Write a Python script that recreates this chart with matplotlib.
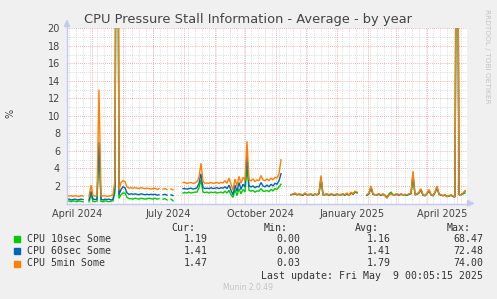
import matplotlib
matplotlib.use("Agg")
import matplotlib.pyplot as plt
import matplotlib.patches as mpatches
import matplotlib.lines as mlines
import numpy as np
import pandas as pd

nan = np.nan

# ---------------- data (2-day samples, 2024-04-06 .. 2025-05-09) ----------------
start_date = "2024-04-06"
n_points = 200

cpu_10sec = [
    0.25, 0.3, 0.2, 0.3, 0.25, 0.2, 0.3, 0.25, 0.2, nan, nan, 0.2, 1.0, 0.25, 0.2, 0.3,
    6.5, 0.25, 0.2, 0.3, 0.25, 0.2, 0.25, 0.3, 1.3, 68.47, 0.6, 1.0, 1.2, 1.2, 0.7, 0.55,
    0.55, 0.5, 0.6, 0.55, 0.5, 0.6, 0.55, 0.5, 0.55, 0.6, 0.55, 0.5,
    0.6, 0.5, 0.55, nan, 0.5, 0.55, 0.4, nan, 0.5, 0.3, nan, 0.5, nan, nan,
    1.2, 1.25, 1.2, 1.3, 1.2, 1.25, 1.3, 1.3, 1.8, 2.7, 1.3,
    1.25, 1.3, 1.2, 1.3, 1.25, 1.3, 1.2, 1.25, 1.3, 1.2, 1.4, 1.2, 1.5,
    1.0, 0.7, 1.6, 0.9, 1.7, 1.1, 1.6, 1.3, 4.2, 1.5,
    1.4, 1.5, 1.3, 1.45, 1.4, 1.7, 1.4, 1.4, 1.5, 1.35, 1.6, 1.45, 1.7,
    1.6, 1.9, 2.2, nan, nan, nan, nan,
    1.0, 1.05, 1.1, 1.0, 1.05, 1.0, 0.95, 1.1, 1.0, 1.0, 1.05, 0.95, 1.05, 1.0, 1.1, 2.8,
    1.0, 1.0, 1.05, 0.95, 1.05, 1.0, 0.95, 1.05, 1.0, 1.0, 1.05, 0.95, 1.1, 0.9, 1.2, 1.05,
    1.3, 1.2, nan, nan, nan, nan,
    0.95, 1.1, 1.8, 1.05, 1.0, 1.0, 1.05, 0.95, 1.05, 0.95, 0.7, 1.1, 1.3, 1.0, 1.0, 1.05,
    0.95, 1.05, 1.0, 1.0, 0.95, 1.05, 1.1, 3.0, 1.0, 1.05, 1.2, 1.5, 0.95, 0.9, 1.1, 1.45,
    1.0, 0.9, 1.2, 1.8, 1.05, 0.95, 0.9, 0.95, 0.8, 0.85, 0.95, 0.8, 0.75, 50.0, 1.0, 1.0,
    1.1, 1.19,
]

cpu_60sec = [
    0.45, 0.5, 0.4, 0.45, 0.5, 0.4, 0.45, 0.5, 0.45, nan, nan, 0.4, 1.4, 0.5, 0.45, 0.5,
    7.0, 0.5, 0.4, 0.5, 0.45, 0.5, 0.4, 0.5, 1.9, 72.48, 1.0, 1.6, 1.9, 1.8, 1.2, 1.05,
    1.1, 1.05, 1.1, 1.05, 1.0, 1.1, 1.05, 1.0, 1.05, 1.0, 1.05, 1.0,
    1.05, 0.95, 1.0, nan, 1.0, 1.05, 0.95, nan, 1.0, 0.9, nan, 1.0, nan, nan,
    1.7, 1.7, 1.65, 1.7, 1.75, 1.65, 1.7, 1.8, 2.3, 3.4, 1.8,
    1.7, 1.75, 1.7, 1.8, 1.7, 1.75, 1.8, 1.7, 1.8, 1.75, 1.9, 1.7, 2.1,
    1.5, 1.0, 2.1, 1.4, 2.4, 1.6, 2.2, 1.9, 5.5, 2.0,
    1.9, 2.0, 1.8, 1.95, 1.9, 2.4, 2.0, 1.9, 2.1, 1.9, 2.2, 2.0, 2.3,
    2.2, 2.6, 3.4, nan, nan, nan, nan,
    1.0, 1.05, 1.15, 1.0, 1.05, 1.0, 0.95, 1.15, 1.0, 1.0, 1.05, 0.95, 1.05, 1.0, 1.15, 3.0,
    1.0, 1.0, 1.05, 0.95, 1.05, 1.0, 0.95, 1.05, 1.0, 1.0, 1.05, 0.95, 1.15, 0.9, 1.25, 1.05,
    1.35, 1.25, nan, nan, nan, nan,
    0.95, 1.15, 1.9, 1.05, 1.0, 1.0, 1.05, 0.95, 1.05, 0.9, 0.65, 1.0, 1.1, 1.0, 1.0, 1.05,
    0.95, 1.05, 1.0, 1.0, 0.95, 1.05, 1.15, 3.4, 1.0, 1.05, 1.25, 1.6, 0.95, 0.9, 1.15, 1.5,
    1.0, 0.9, 1.25, 1.9, 1.05, 0.95, 0.9, 0.95, 0.8, 0.85, 0.95, 0.8, 0.75, 55.0, 1.0, 1.0,
    1.15, 1.41,
]

cpu_5min = [
    0.9, 0.85, 0.9, 0.8, 0.9, 0.85, 0.8, 0.9, 0.85, nan, nan, 0.8, 2.1, 0.9, 0.85, 0.9,
    13.0, 0.9, 0.85, 0.9, 0.8, 0.85, 0.9, 1.0, 2.7, 74.0, 1.5, 2.4, 2.6, 2.5, 1.9, 1.75,
    1.8, 1.75, 1.8, 1.75, 1.7, 1.8, 1.75, 1.7, 1.75, 1.7, 1.65, 1.7,
    1.75, 1.6, 1.7, nan, 1.65, 1.7, 1.6, nan, 1.65, 1.55, nan, 1.7, nan, nan,
    2.4, 2.4, 2.3, 2.35, 2.4, 2.3, 2.35, 2.5, 3.0, 4.6, 2.5,
    2.3, 2.35, 2.3, 2.4, 2.3, 2.35, 2.4, 2.3, 2.4, 2.35, 2.6, 2.3, 2.9,
    2.2, 1.5, 2.8, 2.0, 3.1, 2.3, 3.0, 2.6, 7.1, 2.7,
    2.6, 2.8, 2.5, 2.7, 2.6, 3.2, 2.7, 2.6, 2.8, 2.6, 2.9, 2.7, 3.0,
    2.9, 3.4, 5.0, nan, nan, nan, nan,
    1.0, 1.1, 1.2, 1.0, 1.1, 1.05, 1.0, 1.2, 1.0, 1.05, 1.1, 1.0, 1.1, 1.0, 1.2, 3.2,
    1.0, 1.05, 1.1, 1.0, 1.1, 1.05, 1.0, 1.1, 1.0, 1.05, 1.1, 1.0, 1.2, 0.9, 1.3, 1.1,
    1.4, 1.3, nan, nan, nan, nan,
    1.0, 1.2, 2.0, 1.1, 1.0, 1.05, 1.1, 1.0, 1.1, 0.9, 0.6, 1.0, 1.1, 1.0, 1.05, 1.1,
    1.0, 1.1, 1.0, 1.05, 1.0, 1.1, 1.2, 3.7, 1.0, 1.1, 1.3, 1.7, 1.0, 0.9, 1.2, 1.6,
    1.0, 0.9, 1.3, 2.0, 1.1, 1.0, 0.9, 1.0, 0.8, 0.9, 1.0, 0.85, 0.8, 60.0, 1.0, 1.0,
    1.2, 1.47,
]

series_names = ["CPU 10sec Some", "CPU 60sec Some", "CPU 5min Some"]
series_colors = ["#00CC00", "#0066B3", "#FF8000"]
cur_vals = ["1.19", "1.41", "1.47"]
min_vals = ["0.00", "0.00", "0.03"]
avg_vals = ["1.16", "1.41", "1.79"]
max_vals = ["68.47", "72.48", "74.00"]

x_labels = ["April 2024", "July 2024", "October 2024", "January 2025", "April 2025"]
x_label_dates = ["2024-04-16", "2024-07-16", "2024-10-16", "2025-01-16", "2025-04-16"]
y_ticks = [2, 4, 6, 8, 10, 12, 14, 16, 18, 20]

title = "CPU Pressure Stall Information - Average - by year"
last_update = "Last update: Fri May  9 00:05:15 2025"

# ---------------- figure ----------------
W, H = 497, 299
fig = plt.figure(figsize=(W / 100, H / 100), dpi=100, facecolor="#F0F0F0")

def fx(x):
    return x / W

def fy(y):
    return 1 - y / H

x0, x1, yb, yt = 67, 467, 203.5, 28.3
ax = fig.add_axes([fx(x0), fy(yb), (x1 - x0) / W, (yb - yt) / H])
ax.set_facecolor("white")
for s in ax.spines.values():
    s.set_visible(False)

dates = pd.date_range(start_date, periods=n_points, freq="2D")
xmin, xmax = pd.Timestamp("2024-04-06"), pd.Timestamp("2025-05-11")
ax.set_xlim(xmin, xmax)
ax.set_ylim(0, 20)

# grid
dot = (0, (1, 1.5))
for d in pd.date_range("2024-04-01", "2025-06-01", freq="W-MON"):
    if xmin < d < xmax:
        ax.axvline(d, color="#d0d0d0", lw=0.6, ls=dot, zorder=1)
for d in pd.date_range("2024-04-01", "2025-06-01", freq="MS"):
    if xmin < d < xmax:
        ax.axvline(d, color="#e89a9a", lw=0.6, ls=dot, zorder=1.5)
for v in range(1, 20, 2):
    ax.axhline(v, color="#d0d0d0", lw=0.6, ls=dot, zorder=1)
for v in range(2, 21, 2):
    ax.axhline(v, color="#e89a9a", lw=0.6, ls=dot, zorder=1.5)

for vals, col in zip([cpu_10sec, cpu_60sec, cpu_5min], series_colors):
    ax.plot(dates, vals, color=col, lw=1.0, zorder=3, solid_joinstyle="miter")

ax.set_yticks(y_ticks)
ax.set_yticklabels([str(v) for v in y_ticks])
ax.set_xticks([pd.Timestamp(d) for d in x_label_dates])
ax.set_xticklabels(x_labels)
ax.tick_params(axis="both", length=0, labelsize=7, colors="#444444")
ax.tick_params(axis="y", pad=5)
ax.tick_params(axis="x", pad=4)

# axes lines with arrows
axis_col = "#c4c9ee"
fig.add_artist(mlines.Line2D([fx(x0), fx(x0)], [fy(yb), fy(25)], color=axis_col, lw=1.0))
fig.add_artist(mlines.Line2D([fx(x0), fx(469)], [fy(yb), fy(yb)], color=axis_col, lw=1.0))
fig.add_artist(mpatches.Polygon([[fx(64.5), fy(26.5)], [fx(69.5), fy(26.5)], [fx(67), fy(20.5)]],
                                closed=True, color=axis_col, transform=fig.transFigure))
fig.add_artist(mpatches.Polygon([[fx(467.5), fy(yb - 3)], [fx(467.5), fy(yb + 2.5)], [fx(473.5), fy(yb)]],
                                closed=True, color=axis_col, transform=fig.transFigure))

# texts
fig.text(fx(248.5), fy(19), title, ha="center", va="center", fontsize=9.4, color="#444444")
fig.text(fx(10), fy(113), "%", ha="center", va="center", rotation=90, fontsize=7, color="#444444")
fig.text(fx(487), fy(56), "RRDTOOL / TOBI OETIKER", ha="center", va="center", rotation=270,
         fontsize=5.3, color="#c4c4c4")

mono = "DejaVu Sans Mono"
fs = 7.1
tc = "#333333"
row_y = [239.3, 251.3, 263.5]
fig.text(fx(195), fy(227.7), "Cur:", ha="right", va="center", family=mono, fontsize=fs, color=tc)
fig.text(fx(287.5), fy(227.7), "Min:", ha="right", va="center", family=mono, fontsize=fs, color=tc)
fig.text(fx(378.5), fy(227.7), "Avg:", ha="right", va="center", family=mono, fontsize=fs, color=tc)
fig.text(fx(471), fy(227.7), "Max:", ha="right", va="center", family=mono, fontsize=fs, color=tc)
for i in range(3):
    y = row_y[i]
    fig.add_artist(mpatches.Rectangle((fx(14), fy(y + 3)), 6 / W, 6 / H, color=series_colors[i],
                                      transform=fig.transFigure))
    fig.text(fx(27), fy(y), series_names[i], ha="left", va="center", family=mono, fontsize=fs, color=tc)
    fig.text(fx(208), fy(y), cur_vals[i], ha="right", va="center", family=mono, fontsize=fs, color=tc)
    fig.text(fx(300), fy(y), min_vals[i], ha="right", va="center", family=mono, fontsize=fs, color=tc)
    fig.text(fx(391), fy(y), avg_vals[i], ha="right", va="center", family=mono, fontsize=fs, color=tc)
    fig.text(fx(483), fy(y), max_vals[i], ha="right", va="center", family=mono, fontsize=fs, color=tc)
fig.text(fx(483), fy(275.7), last_update, ha="right", va="center", family=mono, fontsize=fs, color=tc)
fig.text(fx(248), fy(288), "Munin 2.0.49", ha="center", va="center", fontsize=5.5, color="#c4c4c4")

fig.savefig("out.png", dpi=100, facecolor=fig.get_facecolor())
